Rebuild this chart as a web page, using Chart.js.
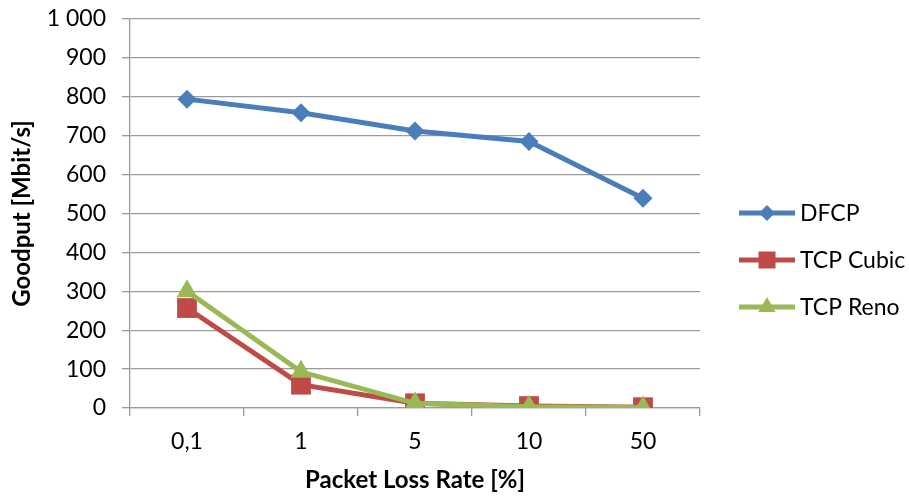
<!DOCTYPE html>
<html>
<head>
<meta charset="utf-8">
<script src="https://cdn.jsdelivr.net/npm/chart.js@4.4.1/dist/chart.umd.min.js"></script>
<style>
  html, body { margin: 0; padding: 0; background: #fff; }
  #wrap { width: 909px; height: 499px; position: relative; }
</style>
</head>
<body>
<div id="wrap"><canvas id="c" width="909" height="499"></canvas></div>
<script>
// Packet loss rates on the x axis
const lossRates = ['0,1', '1', '5', '10', '50'];
// Goodput in Mbit/s for each protocol
const dfcp = [794, 759, 712, 685, 539];
const tcpCubic = [257, 60, 12, 5, 2];
const tcpReno = [300, 93, 12, 3, 1];
const seriesNames = ['DFCP', 'TCP Cubic', 'TCP Reno'];

const FONT = 'Lato, "Open Sans", sans-serif';
const GRID = '#9a9a9a';

// Right-hand legend: line segment with marker, then the series name
const lineLegend = {
  id: 'lineLegend',
  afterDraw(chart) {
    const ctx = chart.ctx;
    const x0 = 739, x1 = 795, yStart = 213, step = 47;
    chart.data.datasets.forEach((ds, i) => {
      const y = yStart + i * step;
      ctx.save();
      ctx.strokeStyle = ds.borderColor;
      ctx.lineWidth = ds.borderWidth;
      ctx.beginPath();
      ctx.moveTo(x0, y);
      ctx.lineTo(x1, y);
      ctx.stroke();
      const cx = (x0 + x1) / 2;
      ctx.fillStyle = ds.pointBackgroundColor;
      ctx.beginPath();
      if (ds.pointStyle === 'rectRot') {
        const r = 8;
        ctx.moveTo(cx, y - r); ctx.lineTo(cx + r, y); ctx.lineTo(cx, y + r); ctx.lineTo(cx - r, y);
      } else if (ds.pointStyle === 'rect') {
        const h = 8.5;
        ctx.rect(cx - h, y - h, 2 * h, 2 * h);
      } else {
        const r = 10;
        ctx.moveTo(cx, y - r);
        ctx.lineTo(cx + r * 0.866, y + r * 0.5);
        ctx.lineTo(cx - r * 0.866, y + r * 0.5);
      }
      ctx.closePath();
      ctx.fill();
      ctx.fillStyle = '#000';
      ctx.font = '23px ' + FONT;
      ctx.textBaseline = 'middle';
      ctx.textAlign = 'left';
      ctx.fillText(ds.label, x1 + 5, y + 1);
      ctx.restore();
    });
  }
};

new Chart(document.getElementById('c'), {
  type: 'line',
  data: {
    labels: lossRates,
    datasets: [
      {
        label: seriesNames[0], data: dfcp, order: 2,
        borderColor: '#4a7ebb', backgroundColor: '#4a7ebb', pointBackgroundColor: '#4a7ebb',
        borderWidth: 5, pointStyle: 'rectRot', pointRadius: 9.5, pointBorderWidth: 0
      },
      {
        label: seriesNames[1], data: tcpCubic, order: 1,
        borderColor: '#be4b48', backgroundColor: '#be4b48', pointBackgroundColor: '#be4b48',
        borderWidth: 5, pointStyle: 'rect', pointRadius: 14, pointBorderWidth: 0
      },
      {
        label: seriesNames[2], data: tcpReno, order: 0,
        borderColor: '#98b954', backgroundColor: '#98b954', pointBackgroundColor: '#98b954',
        borderWidth: 5, pointStyle: 'triangle', pointRadius: 12, pointBorderWidth: 0
      }
    ]
  },
  options: {
    responsive: false,
    animation: false,
    devicePixelRatio: 1,
    layout: { padding: { left: 0, right: 209, top: 19, bottom: 0 } },
    plugins: { legend: { display: false }, tooltip: { enabled: false } },
    scales: {
      x: {
        offset: true,
        grid: { offset: true, drawOnChartArea: false, color: GRID, lineWidth: 1.3, tickLength: 8 },
        border: { color: GRID, width: 1.3 },
        ticks: { color: '#000', font: { family: FONT, size: 23 }, padding: 12, maxRotation: 0 },
        title: { display: true, text: 'Packet Loss Rate [%]', color: '#000',
                 font: { family: FONT, size: 24, weight: 'bold' }, padding: { top: 4, bottom: 4 } },
        afterFit(scale) { scale.height = 91; scale.paddingLeft = 0; scale.paddingRight = 0; }
      },
      y: {
        min: 0, max: 1000,
        ticks: {
          stepSize: 100, color: '#000', font: { family: FONT, size: 23 }, padding: 16,
          callback: v => v >= 1000 ? String(v).replace(/(\d)(?=(\d{3})+$)/g, '$1 ') : String(v)
        },
        grid: { color: GRID, lineWidth: 1.3, tickLength: 8 },
        border: { color: GRID, width: 1.3 },
        title: { display: true, text: 'Goodput [Mbit/s]', color: '#000',
                 font: { family: FONT, size: 24, weight: 'bold' }, padding: { top: 8, bottom: 4 } },
        afterFit(scale) { scale.width = 130; scale.paddingTop = 0; scale.paddingBottom = 0; }
      }
    }
  },
  plugins: [lineLegend]
});
</script>
</body>
</html>
